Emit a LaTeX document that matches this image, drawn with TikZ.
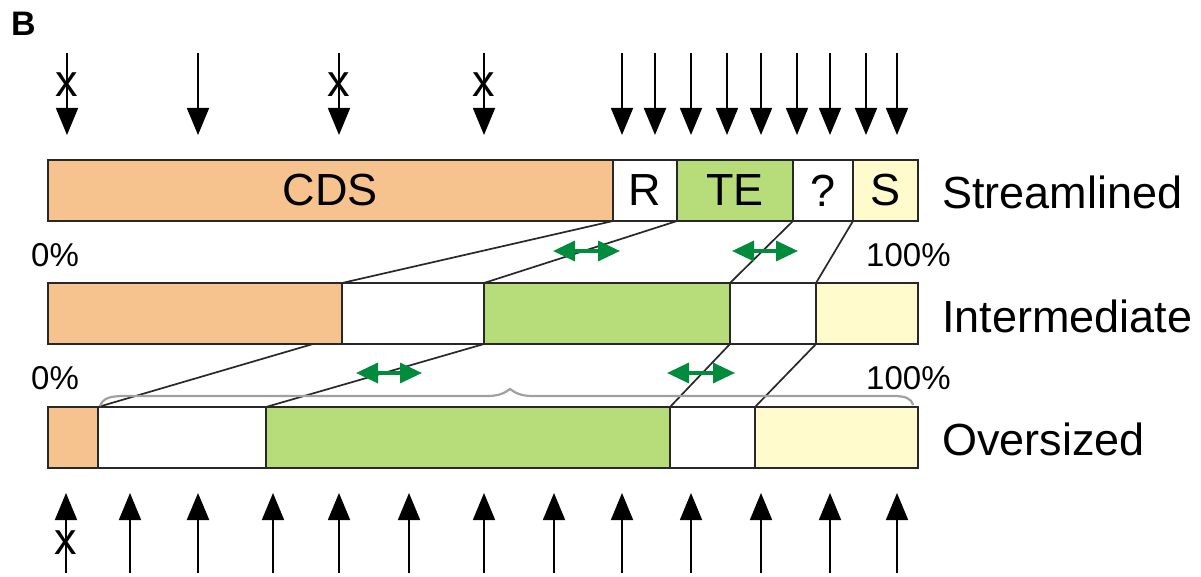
\documentclass[tikz,border=0pt]{standalone}
\usepackage{fontspec}
\setmainfont{Liberation Sans}
\usetikzlibrary{arrows.meta}
\definecolor{cdsc}{RGB}{246,194,142}
\definecolor{tec}{RGB}{183,221,122}
\definecolor{sc}{RGB}{255,251,204}
\definecolor{garr}{RGB}{0,140,60}
\definecolor{brc}{RGB}{160,160,160}
\definecolor{edgec}{RGB}{40,40,40}
\tikzset{
 seg/.style={draw=edgec, line width=1.8pt, anchor=north west, inner sep=0pt, outer sep=0pt, minimum height=61pt, font=\fontsize{45}{54}\selectfont},
 lbl/.style={anchor=base west, inner sep=0pt, font=\fontsize{45}{54}\selectfont},
 pct/.style={anchor=base west, inner sep=0pt, font=\fontsize{33}{40}\selectfont},
 link/.style={draw=edgec, line width=1.7pt},
 blackarr/.style={line width=1.6pt, -{Triangle[length=27pt,width=22pt]}},
 gdouble/.style={garr, line width=3.4pt, {Triangle[length=22pt,width=20pt]}-{Triangle[length=22pt,width=20pt]}},
 xmark/.style={inner sep=0pt, font=\fontsize{45}{54}\selectfont},
 bracestyle/.style={brc, line width=2.2pt},
}
\begin{document}
\begin{tikzpicture}[x=1pt,y=-1pt]
\useasboundingbox (0,0) rectangle (1201,577);
% panel letter
\node[anchor=base west, inner sep=0pt, font=\fontsize{34}{40}\selectfont\bfseries] (B) at (11,36) {B};
% bar 1 (Streamlined)
\node[seg, fill=cdsc, minimum width=565pt] (c1) at (48,160) {CDS};
\node[seg, fill=white, minimum width=64pt] (r1) at (613,160) {R};
\node[seg, fill=tec, minimum width=116pt] (t1) at (677,160) {TE};
\node[seg, fill=white, minimum width=60pt] (q1) at (793,160) {?};
\node[seg, fill=sc, minimum width=65pt] (s1) at (853,160) {S};
% bar 2 (Intermediate)
\node[seg, fill=cdsc, minimum width=294pt] (c2) at (48,283) {};
\node[seg, fill=white, minimum width=142pt] (r2) at (342,283) {};
\node[seg, fill=tec, minimum width=246pt] (t2) at (484,283) {};
\node[seg, fill=white, minimum width=86pt] (q2) at (730,283) {};
\node[seg, fill=sc, minimum width=102pt] (s2) at (816,283) {};
% bar 3 (Oversized)
\node[seg, fill=cdsc, minimum width=50pt] (c3) at (48,407) {};
\node[seg, fill=white, minimum width=168pt] (r3) at (98,407) {};
\node[seg, fill=tec, minimum width=404pt] (t3) at (266,407) {};
\node[seg, fill=white, minimum width=85pt] (q3) at (670,407) {};
\node[seg, fill=sc, minimum width=163pt] (s3) at (755,407) {};
% labels
\node[lbl] (ls) at (942,209) {Streamlined};
\node[lbl] (li) at (942,332) {Intermediate};
\node[lbl] (lo) at (942,455) {Oversized};
\node[pct] (p0a) at (31,266) {0\%};
\node[pct] (p1a) at (866,266) {100\%};
\node[pct] (p0b) at (31,389) {0\%};
\node[pct] (p1b) at (866,389) {100\%};
% connectors bar1 -> bar2
\draw[link] (c1.south east) -- (c2.north east);
\draw[link] (r1.south east) -- (r2.north east);
\draw[link] (t1.south east) -- (t2.north east);
\draw[link] (q1.south east) -- (q2.north east);
% connectors bar2 -> bar3
\coordinate (c2off) at (313,344);
\draw[link] (c2off) -- (c3.north east);
\draw[link] (r2.south east) -- (r3.north east);
\draw[link] (t2.south east) -- (t3.north east);
\draw[link] (q2.south east) -- (q3.north east);
% brace
\draw[bracestyle] (100,406) .. controls (103,398) and (110,396) .. (125,396) -- (488,396)
  .. controls (500,396) and (506,392) .. (510,389) .. controls (514,392) and (520,396) .. (532,396)
  -- (893,396) .. controls (905,396) and (911,398) .. (913,405);
% green double arrows
\coordinate (g1a) at (553,251); \coordinate (g1b) at (620,251);
\coordinate (g2a) at (732,251); \coordinate (g2b) at (798,251);
\coordinate (g3a) at (356,373); \coordinate (g3b) at (422,373);
\coordinate (g4a) at (667,373); \coordinate (g4b) at (735,373);
\draw[gdouble] (g1a) -- (g1b);
\draw[gdouble] (g2a) -- (g2b);
\draw[gdouble] (g3a) -- (g3b);
\draw[gdouble] (g4a) -- (g4b);
% top arrows
\foreach \x/\w [count=\i] in {67/1.6,198/1.6,339/1.6,484/1.6,622/1.6,655/2.4,691/1.6,727/1.6,761/1.6,797/1.6,830/1.6,866/1.6,897/1.6}{
  \coordinate (ts\i) at (\x,53);
  \coordinate (te\i) at (\x,135);
  \draw[blackarr, line width=\w pt] (ts\i) -- (te\i);
}
\node[xmark] (xt1) at (67,85) {x};
\node[xmark] (xt2) at (339,85) {x};
\node[xmark] (xt3) at (484,85) {x};
% bottom arrows
\foreach \x/\w [count=\i] in {66/1.6,130/1.6,198/2.4,273/1.6,339/1.6,409/1.6,484/1.6,554/1.6,622/1.6,691/1.6,761/1.6,830/1.6,897/1.6}{
  \coordinate (bs\i) at (\x,573);
  \coordinate (be\i) at (\x,493);
  \draw[blackarr, line width=\w pt] (bs\i) -- (be\i);
}
\node[xmark] (xb1) at (66,543) {x};
\end{tikzpicture}
\end{document}
